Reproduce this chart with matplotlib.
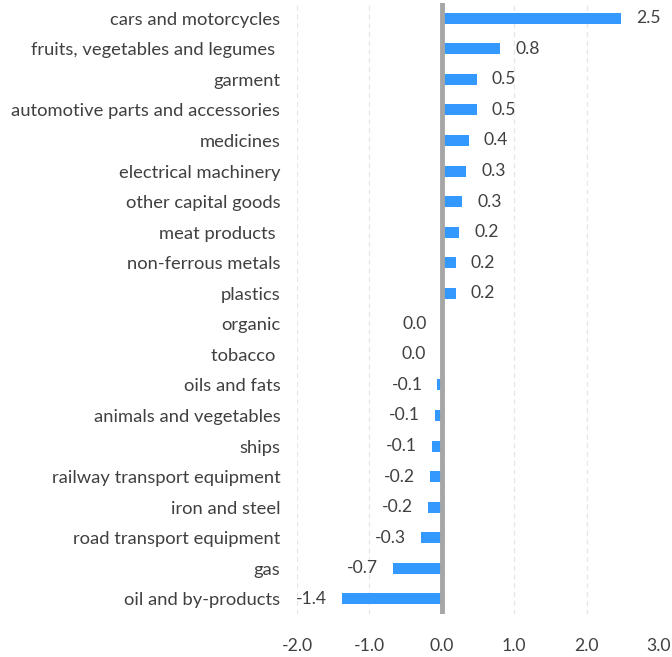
import matplotlib
matplotlib.use("Agg")
import matplotlib.pyplot as plt
import numpy as np

categories = [
    "cars and motorcycles",
    "fruits, vegetables and legumes ",
    "garment",
    "automotive parts and accessories",
    "medicines",
    "electrical machinery",
    "other capital goods",
    "meat products ",
    "non-ferrous metals",
    "plastics",
    "organic",
    "tobacco ",
    "oils and fats",
    "animals and vegetables",
    "ships",
    "railway transport equipment",
    "iron and steel",
    "road transport equipment",
    "gas",
    "oil and by-products",
]
values = [2.47, 0.81, 0.48, 0.48, 0.37, 0.34, 0.28, 0.24, 0.19, 0.19,
          0.0, -0.01, -0.06, -0.10, -0.14, -0.16, -0.19, -0.29, -0.67, -1.38]
x_ticks = [-2.0, -1.0, 0.0, 1.0, 2.0, 3.0]

plt.rcParams['font.family'] = ['Lato', 'DejaVu Sans']
text_color = '#404040'

fig = plt.figure(figsize=(6.72, 6.57), dpi=100)
ax = fig.add_axes([0.442, 0.0654, 0.5387, 0.930])

y = np.arange(len(categories))
ax.barh(y, values, height=0.36, color='#3399ff', zorder=3)

ax.set_xlim(x_ticks[0], x_ticks[-1])
ax.set_ylim(len(categories) - 0.5, -0.5)
ax.set_xticks(x_ticks)
ax.set_xticklabels([f"{t:.1f}" for t in x_ticks], fontsize=12.7, color=text_color)
ax.set_yticks(y)
ax.set_yticklabels(categories, fontsize=13.2, color=text_color)
ax.tick_params(axis='both', length=0)
ax.tick_params(axis='y', pad=12)
ax.tick_params(axis='x', pad=17)

for s in ax.spines.values():
    s.set_visible(False)

for t in x_ticks:
    if t != 0:
        ax.axvline(t, color='#e6e6e6', lw=0.9, ls=(0, (4, 3)), zorder=1)
ax.axvline(0, color='#a6a6a6', lw=3.5, zorder=4)

for yi, v in zip(y, values):
    lbl = f"{v:.1f}"
    if lbl == "-0.0":
        lbl = "0.0"
    if v > 0:
        ax.annotate(lbl, (v, yi), xytext=(15, 0), textcoords='offset pixels',
                    ha='left', va='center', fontsize=12.6, color=text_color)
    else:
        ax.annotate(lbl, (v, yi), xytext=(-15, 0), textcoords='offset pixels',
                    ha='right', va='center', fontsize=12.6, color=text_color)

fig.savefig("out.png", dpi=100)
